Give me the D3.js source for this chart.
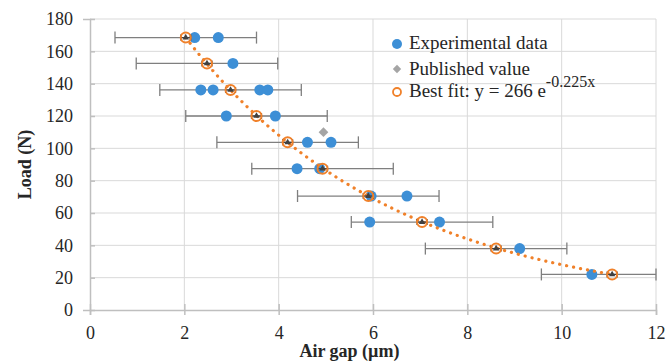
<!DOCTYPE html>
<html>
<head>
<meta charset="utf-8">
<script src="https://cdnjs.cloudflare.com/ajax/libs/d3/7.8.5/d3.min.js"></script>
<style>
  body { margin: 0; background: #fff; }
  text { font-family: "Liberation Serif", "Times New Roman", serif; fill: #262626; }
</style>
</head>
<body>
<div id="chart"></div>
<script>
// load levels (N), one row per level
var loads = [168.5, 152.5, 136.1, 120.0, 103.7, 87.4, 70.5, 54.4, 38.0, 22.0];
// mean air gap per load (um), sits on the best-fit curve
var meanGap = [2.03, 2.48, 2.98, 3.53, 4.19, 4.93, 5.90, 7.04, 8.61, 11.07];
// +/- error on the mean air gap
var gapError = [1.5, 1.5, 1.5, 1.5, 1.5, 1.5, 1.5, 1.5, 1.5, 1.5];
// individual measurements, index matches loads
var experimentalGaps = [
  [2.22, 2.72],
  [3.03],
  [2.35, 2.61, 3.60, 3.77],
  [2.89, 3.93],
  [4.61, 5.11],
  [4.39, 4.87],
  [5.96, 6.72],
  [5.93, 7.41],
  [9.11],
  [10.64]
];
var publishedGap = [4.95];
var publishedLoad = [110];
// best fit y = A e^(B x)
var fitA = 266, fitB = -0.225;
var xTicks = [0, 2, 4, 6, 8, 10, 12];
var yTicks = [0, 20, 40, 60, 80, 100, 120, 140, 160, 180];

var width = 669, height = 361;
var margin = {top: 19, right: 13, bottom: 51, left: 90};
var innerWidth = width - margin.left - margin.right,
    innerHeight = height - margin.top - margin.bottom;

var svg = d3.select("#chart").append("svg")
  .attr("width", width)
  .attr("height", height);

var g = svg.append("g")
  .attr("transform", "translate(" + margin.left + "," + margin.top + ")");

var xScale = d3.scaleLinear().domain([0, 12]).range([0, innerWidth]);
var yScale = d3.scaleLinear().domain([0, 180]).range([innerHeight, 0]);

// gridlines
g.append("g").selectAll("line").data(yTicks.slice(1)).enter().append("line")
  .attr("x1", 0).attr("x2", innerWidth)
  .attr("y1", d => yScale(d)).attr("y2", d => yScale(d))
  .attr("stroke", "#d9d9d9").attr("stroke-width", 1);
g.append("g").selectAll("line").data(xTicks.slice(1)).enter().append("line")
  .attr("x1", d => xScale(d)).attr("x2", d => xScale(d))
  .attr("y1", 0).attr("y2", innerHeight)
  .attr("stroke", "#d9d9d9").attr("stroke-width", 1);

// axes
var xAxis = g.append("g")
  .attr("transform", "translate(0," + innerHeight + ")")
  .call(d3.axisBottom(xScale).tickValues(xTicks).tickSize(5).tickPadding(11));
xAxis.selectAll(".tick line").attr("y1", -6).attr("stroke", "#bfbfbf").attr("stroke-width", 1.5);
xAxis.select(".domain").attr("stroke", "#bfbfbf").attr("stroke-width", 1.5);
xAxis.selectAll("text").style("font-size", "18px").style("font-family", "Liberation Serif").attr("fill", "#404040");

var yAxis = g.append("g")
  .call(d3.axisLeft(yScale).tickValues(yTicks).tickSize(7).tickPadding(10));
yAxis.selectAll(".tick line").attr("x2", 5).attr("stroke", "#bfbfbf").attr("stroke-width", 1.5);
yAxis.select(".domain").attr("stroke", "#bfbfbf").attr("stroke-width", 1.5);
yAxis.selectAll("text").style("font-size", "18px").style("font-family", "Liberation Serif").attr("fill", "#404040");

// axis titles
svg.append("text")
  .attr("x", margin.left + xScale(5.5)).attr("y", 357)
  .attr("text-anchor", "middle")
  .style("font-size", "18px").style("font-weight", "bold")
  .attr("fill", "#000")
  .text("Air gap (\u00b5m)");
svg.append("text")
  .attr("transform", "translate(31," + (margin.top + yScale(90)) + ") rotate(-90)")
  .attr("text-anchor", "middle")
  .style("font-size", "18px").style("font-weight", "bold")
  .attr("fill", "#000")
  .text("Load (N)");

var plot = g.append("g");

// error bars
var rows = loads.map((l, i) => ({load: l, gap: meanGap[i], err: gapError[i]}));
var capH = 6;
rows.forEach(function(d) {
  var lo = Math.max(0, d.gap - d.err), hi = Math.min(12, d.gap + d.err);
  plot.append("line")
    .attr("x1", xScale(lo)).attr("x2", xScale(hi))
    .attr("y1", yScale(d.load)).attr("y2", yScale(d.load))
    .attr("stroke", "#7f7f7f").attr("stroke-width", 1.3);
  [lo, hi].forEach(function(v) {
    plot.append("line")
      .attr("x1", xScale(v)).attr("x2", xScale(v))
      .attr("y1", yScale(d.load) - capH).attr("y2", yScale(d.load) + capH)
      .attr("stroke", "#7f7f7f").attr("stroke-width", 1.3);
  });
});

// experimental data
var expPoints = [];
experimentalGaps.forEach((arr, i) => arr.forEach(v => expPoints.push({x: v, y: loads[i]})));
plot.selectAll(".exp").data(expPoints).enter().append("circle")
  .attr("class", "exp")
  .attr("cx", d => xScale(d.x)).attr("cy", d => yScale(d.y))
  .attr("r", 5.5)
  .attr("fill", "#3d8fd6");

// published value
plot.selectAll(".pub").data(publishedGap).enter().append("path")
  .attr("class", "pub")
  .attr("transform", (d, i) => "translate(" + xScale(d) + "," + yScale(publishedLoad[i]) + ")")
  .attr("d", d3.symbol().type(d3.symbolDiamond2).size(60))
  .attr("fill", "#a5a5a5");

// best fit dotted curve, from the legend equation
var fitX = d3.range(meanGap[0], meanGap[meanGap.length - 1] + 0.001, 0.05);
var fitLine = d3.line()
  .x(d => xScale(d))
  .y(d => yScale(fitA * Math.exp(fitB * d)));
plot.append("path")
  .datum(fitX)
  .attr("d", fitLine)
  .attr("fill", "none")
  .attr("stroke", "#f0812a")
  .attr("stroke-width", 3.2)
  .attr("stroke-linecap", "round")
  .attr("stroke-dasharray", "0.1 7");

// mean markers with small error caps
rows.forEach(function(d) {
  var cx = xScale(d.gap), cy = yScale(d.load);
  plot.append("line")
    .attr("x1", cx - 5).attr("x2", cx + 5)
    .attr("y1", cy).attr("y2", cy)
    .attr("stroke", "#404040").attr("stroke-width", 1.2);
  [cx - 5, cx + 5].forEach(function(v) {
    plot.append("line")
      .attr("x1", v).attr("x2", v)
      .attr("y1", cy - 3).attr("y2", cy + 3)
      .attr("stroke", "#404040").attr("stroke-width", 1.2);
  });
  plot.append("path")
    .attr("transform", "translate(" + cx + "," + cy + ")")
    .attr("d", d3.symbol().type(d3.symbolTriangle).size(18))
    .attr("fill", "#404040");
});

plot.selectAll(".fit").data(rows).enter().append("circle")
  .attr("class", "fit")
  .attr("cx", d => xScale(d.gap)).attr("cy", d => yScale(d.load))
  .attr("r", 5)
  .attr("fill", "none")
  .attr("stroke", "#f0812a")
  .attr("stroke-width", 2);

// legend
var legend = svg.append("g").attr("transform", "translate(397,0)");
legend.append("circle").attr("cx", 0).attr("cy", 44).attr("r", 5).attr("fill", "#3d8fd6");
legend.append("path").attr("transform", "translate(0,69)")
  .attr("d", d3.symbol().type(d3.symbolDiamond2).size(45)).attr("fill", "#a5a5a5");
legend.append("circle").attr("cx", 0).attr("cy", 92).attr("r", 4).attr("fill", "#fff")
  .attr("stroke", "#f0812a").attr("stroke-width", 1.8);
legend.append("text").attr("x", 12).attr("y", 49).style("font-size", "19px").text("Experimental data");
legend.append("text").attr("x", 12).attr("y", 75).style("font-size", "19px").text("Published value");
var fitText = legend.append("text").attr("x", 12).attr("y", 97).style("font-size", "19px");
fitText.append("tspan").text("Best fit: y = " + fitA + " e");
fitText.append("tspan").attr("dy", -10).style("font-size", "16px").text(fitB.toFixed(3) + "x");
</script>
</body>
</html>
